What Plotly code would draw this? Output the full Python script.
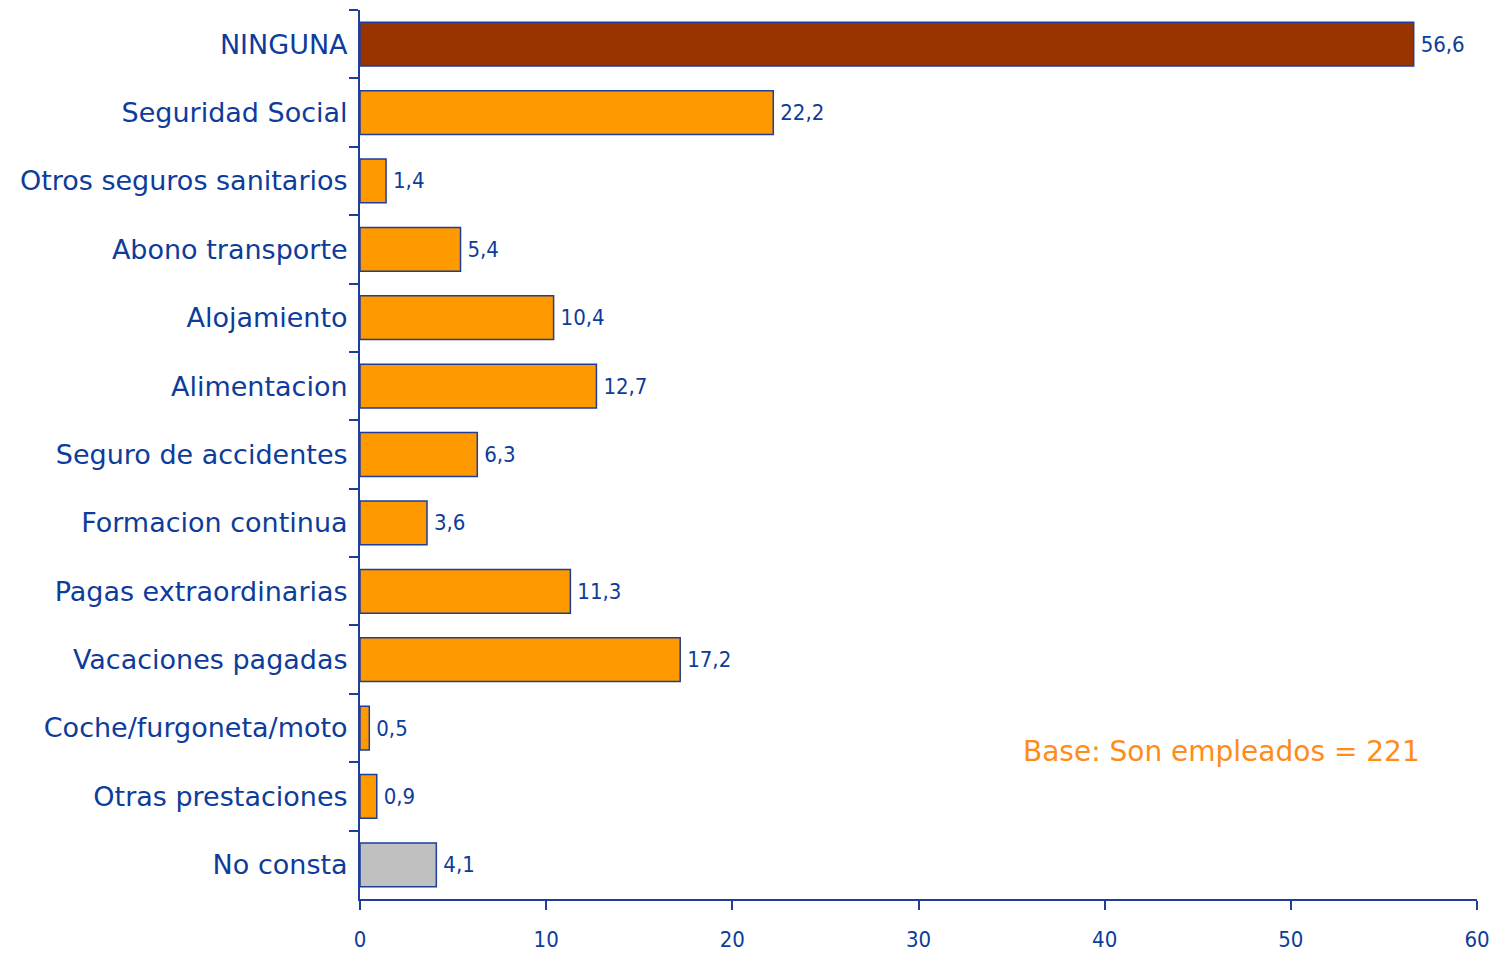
import plotly.graph_objects as go

categories = ["NINGUNA", "Seguridad Social", "Otros seguros sanitarios", "Abono transporte",
              "Alojamiento", "Alimentacion", "Seguro de accidentes", "Formacion continua",
              "Pagas extraordinarias", "Vacaciones pagadas", "Coche/furgoneta/moto",
              "Otras prestaciones", "No consta"]
values = [56.6, 22.2, 1.4, 5.4, 10.4, 12.7, 6.3, 3.6, 11.3, 17.2, 0.5, 0.9, 4.1]
x_ticks = [0, 10, 20, 30, 40, 50, 60]
note = "Base: Son empleados = 221"

colors = ["#993300"] + ["#FF9900"] * 11 + ["#C0C0C0"]
blue = "#0D3C9A"
labels = ["\u2009" + f"{v:.1f}".replace(".", ",") for v in values]
narrow = "DejaVu Sans Condensed, Liberation Sans Narrow, sans-serif"

fig = go.Figure(go.Bar(
    y=categories, x=values, orientation="h",
    marker=dict(color=colors, line=dict(color="#1F3D99", width=1.5)),
    width=0.64,
    text=labels, textposition="outside", cliponaxis=False,
    textfont=dict(family=narrow, size=22, color=blue),
))

# page body has an 8px margin, so the figure is sized to fit the 1497x955 window
fig.update_layout(
    width=1489, height=947,
    margin=dict(l=352, r=20, t=2, b=56, autoexpand=False),
    plot_bgcolor="white", paper_bgcolor="white",
    showlegend=False,
)
fig.update_xaxes(
    range=[0, 60], tickvals=x_ticks, showgrid=False, zeroline=False, automargin=False,
    showline=True, linecolor="#1F3D99", linewidth=2,
    ticks="outside", ticklen=9, tickwidth=2, tickcolor="#1F3D99",
    tickfont=dict(family=narrow, size=22, color=blue),
    ticklabelstandoff=11,
)
fig.update_yaxes(
    autorange="reversed", showgrid=False, zeroline=False, automargin=False,
    showline=True, linecolor="#1F3D99", linewidth=2,
    ticks="outside", tickson="boundaries", ticklen=9, tickwidth=2, tickcolor="#1F3D99",
    tickfont=dict(family="DejaVu Sans, sans-serif", size=27, color=blue),
    ticklabelstandoff=5,
)
fig.add_annotation(
    xref="x", x=46.25, yref="paper", y=(899 - 751) / 889,
    xanchor="center", yanchor="middle", text=note, showarrow=False,
    font=dict(family="DejaVu Sans, sans-serif", size=28, color="#FF8C1A"),
)

fig.write_html("out.html")
